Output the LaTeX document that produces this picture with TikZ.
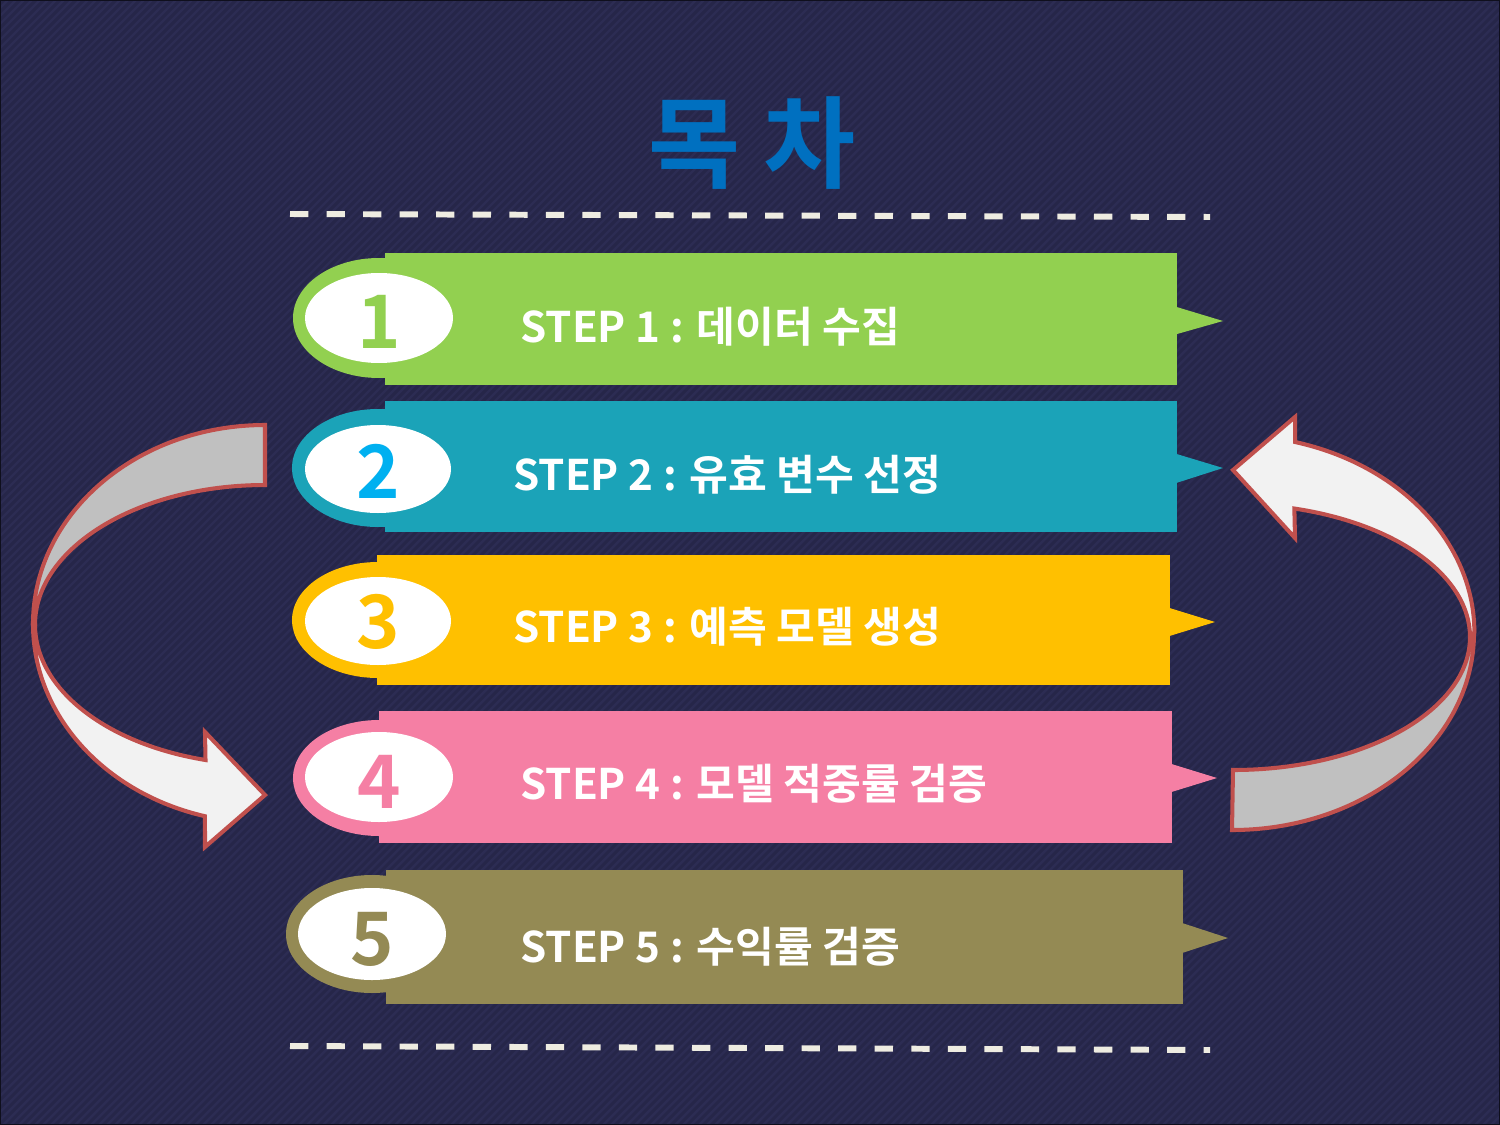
\documentclass[tikz,border=0pt]{standalone}
\usepackage{fontspec}
\usepackage{tikz}
\usetikzlibrary{positioning}
\newfontfamily\kr{Noto Sans CJK KR}[BoldFont={Noto Sans CJK KR Bold}]
\definecolor{bgnavy}{HTML}{262649}
\definecolor{bgstripe}{HTML}{2C2C53}
\definecolor{titleblue}{HTML}{0070C0}
\definecolor{dashcream}{HTML}{EEECE1}
\definecolor{stepgreen}{HTML}{92D050}
\definecolor{stepteal}{HTML}{1BA3B8}
\definecolor{stepgold}{HTML}{FFC000}
\definecolor{steppink}{HTML}{F57FA4}
\definecolor{stepolive}{HTML}{948A54}
\definecolor{numblue}{HTML}{00B0F0}
\definecolor{arrowred}{HTML}{C0504D}
\definecolor{backgray}{HTML}{C0C0C0}
\definecolor{frontwhite}{HTML}{F2F2F2}

\begin{document}
\begin{tikzpicture}[x=0.02cm, y=-0.02cm,
    steptext/.style={text=white, font=\kr\bfseries\fontsize{24}{28}\selectfont, anchor=base west, inner sep=0pt},
    numtext/.style={font=\kr\bfseries\fontsize{42}{48}\selectfont, anchor=base, inner sep=0pt},
    turn/.style={draw=arrowred, line width=2.3pt, line join=miter},
    cutline/.style={draw=dashcream, line width=3.4pt, dash pattern=on 10.4pt off 10.4pt}]
    \useasboundingbox (0,0) rectangle (1500,1125);
    \fill[bgnavy] (0,0) rectangle (1500,1125);
    \begin{scope}
        \clip (0,0) rectangle (1500,1125);
        \foreach \i in {-1125,-1117,...,1500}
            \draw[bgstripe, line width=1.4pt] (\i,1125) -- ++(1125,-1125);
    \end{scope}
    \draw[black!60!bgnavy, line width=1.5pt] (0,0) rectangle (1500,1125);

    \node[text=titleblue, font=\kr\bfseries\fontsize{57}{64}\selectfont] (title) at (752,143) {목 차};
    \coordinate (topl) at (290,214);
    \coordinate (topr) at (1210,217);
    \coordinate (botl) at (290,1046);
    \coordinate (botr) at (1210,1050);
    \draw[cutline] (topl) -- (topr);
    \draw[cutline] (botl) -- (botr);

    % step 1
    \fill[stepgreen] (379,318) ellipse [x radius=86, y radius=60];
    \fill[stepgreen] (385,253) rectangle (1177,385);
    \fill[stepgreen] (1170,305) -- (1223,321) -- (1170,336) -- cycle;
    \fill[white] (379,318) ellipse [x radius=74, y radius=45];
    \node[numtext, text=stepgreen] (num1) at (379,348) {1};
    \node[steptext] (step1) at (520,342) {STEP 1 : 데이터 수집};

    % step 2
    \fill[stepteal] (378,468) ellipse [x radius=86, y radius=59];
    \fill[stepteal] (385,401) rectangle (1177,532);
    \fill[stepteal] (1170,452) -- (1223,468) -- (1170,485) -- cycle;
    \fill[white] (378,469) ellipse [x radius=73, y radius=44];
    \node[numtext, text=numblue] (num2) at (378,498) {2};
    \node[steptext] (step2) at (513,490) {STEP 2 : 유효 변수 선정};

    % step 3
    \fill[stepgold] (378,620) ellipse [x radius=86, y radius=58];
    \fill[stepgold] (377,555) rectangle (1170,685);
    \fill[stepgold] (1163,606) -- (1215,622) -- (1163,638) -- cycle;
    \fill[white] (378,621) ellipse [x radius=73, y radius=44];
    \node[numtext, text=stepgold] (num3) at (378,648) {3};
    \node[steptext] (step3) at (513,642) {STEP 3 : 예측 모델 생성};

    % step 4
    \fill[steppink] (379,778) ellipse [x radius=86, y radius=58];
    \fill[steppink] (379,711) rectangle (1172,843);
    \fill[steppink] (1165,762) -- (1217,778) -- (1165,794) -- cycle;
    \fill[white] (379,777) ellipse [x radius=74, y radius=45];
    \node[numtext, text=steppink] (num4) at (379,808) {4};
    \node[steptext] (step4) at (520,799) {STEP 4 : 모델 적중률 검증};

    % step 5
    \fill[stepolive] (372,934) ellipse [x radius=86, y radius=59];
    \fill[stepolive] (386,870) rectangle (1183,1004);
    \fill[stepolive] (1176,921) -- (1228,938) -- (1176,955) -- cycle;
    \fill[white] (372,934) ellipse [x radius=74, y radius=46];
    \node[numtext, text=stepolive] (num5) at (372,965) {5};
    \node[steptext] (step5) at (520,962) {STEP 5 : 수익률 검증};

    % turning arrows
    \filldraw[turn, fill=backgray] (265,425) arc[start angle=-90, end angle=-180, x radius=232, y radius=199]
        -- (35,625) arc[start angle=180, end angle=270, x radius=230, y radius=140] -- cycle;
    \filldraw[turn, fill=frontwhite] (33,624) arc[start angle=180, end angle=105, x radius=232, y radius=199]
        -- (205,847) -- (265,795) -- (205,732) -- (205.5,760)
        arc[start angle=105, end angle=180, x radius=230, y radius=140] -- cycle;
    \filldraw[turn, fill=backgray] (1474,633) arc[start angle=0, end angle=90, x radius=242, y radius=197]
        -- (1233,770) arc[start angle=90, end angle=0, x radius=237, y radius=133] -- cycle;
    \filldraw[turn, fill=frontwhite] (1233,470) -- (1295,417) -- (1295,442)
        arc[start angle=-75, end angle=0, x radius=242, y radius=197]
        -- (1470,637) arc[start angle=0, end angle=-75, x radius=237, y radius=133]
        -- (1295,538) -- cycle;
\end{tikzpicture}
\end{document}
